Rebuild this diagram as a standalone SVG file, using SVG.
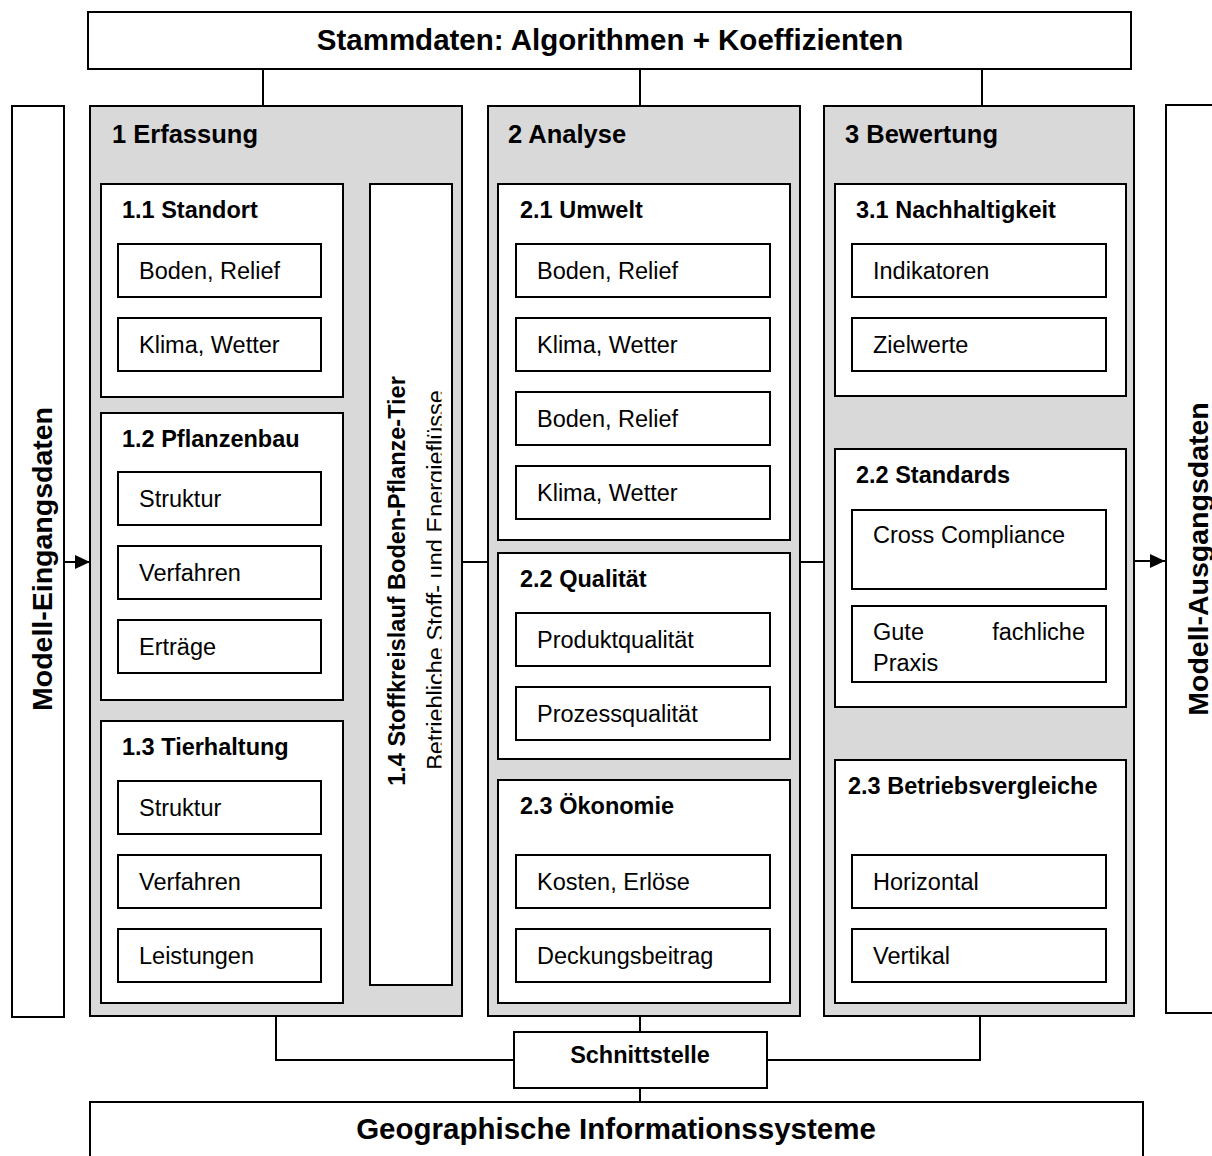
<svg xmlns="http://www.w3.org/2000/svg" width="1212" height="1156" viewBox="0 0 1212 1156">
<style>
.col{fill:#d9d9d9;stroke:#000;stroke-width:2}
.box{fill:#fff;stroke:#000;stroke-width:2}
.conn{fill:none;stroke:#000;stroke-width:2}
text{font-family:"Liberation Sans",Arial,sans-serif;fill:#000}
.big{font-size:29.5px;font-weight:bold}
.side{font-size:28.5px;font-weight:bold}
.ct{font-size:25.5px;font-weight:bold}
.st{font-size:23.5px;font-weight:bold}
.it{font-size:23.5px}
</style>
<defs>
<marker id="arr" markerWidth="15" markerHeight="14" refX="15" refY="7" orient="auto" markerUnits="userSpaceOnUse">
<path d="M0,0 L15,7 L0,14 Z" fill="#000"/>
</marker>
<clipPath id="clip14"><rect x="371" y="185" width="70.5" height="799"/></clipPath>
</defs>

<g id="connectors">
<line class="conn" x1="263" y1="69" x2="263" y2="106"/>
<line class="conn" x1="640" y1="69" x2="640" y2="106"/>
<line class="conn" x1="982" y1="69" x2="982" y2="106"/>
<line class="conn" x1="64" y1="562" x2="90" y2="562" marker-end="url(#arr)"/>
<line class="conn" x1="1134" y1="561" x2="1165" y2="561" marker-end="url(#arr)"/>
<line class="conn" x1="462" y1="562" x2="488" y2="562"/>
<line class="conn" x1="800" y1="562" x2="824" y2="562"/>
<line class="conn" x1="343" y1="291" x2="370" y2="291"/>
<line class="conn" x1="343" y1="556" x2="370" y2="556"/>
<line class="conn" x1="343" y1="862" x2="370" y2="862"/>
<polyline class="conn" points="276,1016 276,1060 514,1060"/>
<polyline class="conn" points="980,1016 980,1060 767,1060"/>
<line class="conn" x1="640" y1="1016" x2="640" y2="1032"/>
<line class="conn" x1="640" y1="1088" x2="640" y2="1102"/>
</g>

<g id="stammdaten">
<rect class="box" x="88" y="12" width="1043" height="57"/>
<text class="big" x="610" y="50" text-anchor="middle">Stammdaten: Algorithmen + Koeffizienten</text>
</g>

<g id="eingang">
<rect class="box" x="12" y="106" width="52" height="911"/>
<text class="side" transform="translate(52,559) rotate(-90)" text-anchor="middle">Modell-Eingangsdaten</text>
</g>

<g id="ausgang">
<rect class="box" x="1166" y="105" width="70" height="908"/>
<text class="side" transform="translate(1208,559) rotate(-90)" text-anchor="middle">Modell-Ausgangsdaten</text>
</g>

<g id="col1">
<rect class="col" x="90" y="106" width="372" height="910"/>
<text class="ct" x="112" y="143">1 Erfassung</text>
</g>
<g id="n1-1">
<rect class="box" x="101" y="184" width="242" height="213"/>
<text class="st" x="122" y="218">1.1 Standort</text>
<rect class="box" x="118" y="244" width="203" height="53"/><text class="it" x="139" y="279">Boden, Relief</text>
<rect class="box" x="118" y="318" width="203" height="53"/><text class="it" x="139" y="353">Klima, Wetter</text>
</g>
<g id="n1-2">
<rect class="box" x="101" y="413" width="242" height="287"/>
<text class="st" x="122" y="447">1.2 Pflanzenbau</text>
<rect class="box" x="118" y="472" width="203" height="53"/><text class="it" x="139" y="507">Struktur</text>
<rect class="box" x="118" y="546" width="203" height="53"/><text class="it" x="139" y="581">Verfahren</text>
<rect class="box" x="118" y="620" width="203" height="53"/><text class="it" x="139" y="655">Erträge</text>
</g>
<g id="n1-3">
<rect class="box" x="101" y="721" width="242" height="282"/>
<text class="st" x="122" y="755">1.3 Tierhaltung</text>
<rect class="box" x="118" y="781" width="203" height="53"/><text class="it" x="139" y="816">Struktur</text>
<rect class="box" x="118" y="855" width="203" height="53"/><text class="it" x="139" y="890">Verfahren</text>
<rect class="box" x="118" y="929" width="203" height="53"/><text class="it" x="139" y="964">Leistungen</text>
</g>
<g id="n1-4">
<rect class="box" x="370" y="184" width="82" height="801"/>
<text class="st" transform="translate(405,581) rotate(-90)" text-anchor="middle">1.4 Stoffkreislauf Boden-Pflanze-Tier</text>
<g clip-path="url(#clip14)">
<text class="it" transform="translate(444,580) rotate(-90)" text-anchor="middle">Betriebliche Stoff- und Energieflüsse</text>
</g>
</g>

<g id="col2">
<rect class="col" x="488" y="106" width="312" height="910"/>
<text class="ct" x="508" y="143">2 Analyse</text>
</g>
<g id="n2-1">
<rect class="box" x="498" y="184" width="292" height="356"/>
<text class="st" x="520" y="218">2.1 Umwelt</text>
<rect class="box" x="516" y="244" width="254" height="53"/><text class="it" x="537" y="279">Boden, Relief</text>
<rect class="box" x="516" y="318" width="254" height="53"/><text class="it" x="537" y="353">Klima, Wetter</text>
<rect class="box" x="516" y="392" width="254" height="53"/><text class="it" x="537" y="427">Boden, Relief</text>
<rect class="box" x="516" y="466" width="254" height="53"/><text class="it" x="537" y="501">Klima, Wetter</text>
</g>
<g id="n2-2">
<rect class="box" x="498" y="553" width="292" height="206"/>
<text class="st" x="520" y="587">2.2 Qualität</text>
<rect class="box" x="516" y="613" width="254" height="53"/><text class="it" x="537" y="648">Produktqualität</text>
<rect class="box" x="516" y="687" width="254" height="53"/><text class="it" x="537" y="722">Prozessqualität</text>
</g>
<g id="n2-3">
<rect class="box" x="498" y="780" width="292" height="223"/>
<text class="st" x="520" y="814">2.3 Ökonomie</text>
<rect class="box" x="516" y="855" width="254" height="53"/><text class="it" x="537" y="890">Kosten, Erlöse</text>
<rect class="box" x="516" y="929" width="254" height="53"/><text class="it" x="537" y="964">Deckungsbeitrag</text>
</g>

<g id="col3">
<rect class="col" x="824" y="106" width="310" height="910"/>
<text class="ct" x="845" y="143">3 Bewertung</text>
</g>
<g id="n3-1">
<rect class="box" x="835" y="184" width="291" height="212"/>
<text class="st" x="856" y="218">3.1 Nachhaltigkeit</text>
<rect class="box" x="852" y="244" width="254" height="53"/><text class="it" x="873" y="279">Indikatoren</text>
<rect class="box" x="852" y="318" width="254" height="53"/><text class="it" x="873" y="353">Zielwerte</text>
</g>
<g id="n3-2">
<rect class="box" x="835" y="449" width="291" height="258"/>
<text class="st" x="856" y="483">2.2 Standards</text>
<rect class="box" x="852" y="510" width="254" height="79"/><text class="it" x="873" y="543">Cross Compliance</text>
<rect class="box" x="852" y="606" width="254" height="76"/>
<text class="it" x="873" y="640">Gute</text>
<text class="it" x="1085" y="640" text-anchor="end">fachliche</text>
<text class="it" x="873" y="671">Praxis</text>
</g>
<g id="n3-3">
<rect class="box" x="835" y="760" width="291" height="243"/>
<text class="st" x="848" y="794">2.3 Betriebsvergleiche</text>
<rect class="box" x="852" y="855" width="254" height="53"/><text class="it" x="873" y="890">Horizontal</text>
<rect class="box" x="852" y="929" width="254" height="53"/><text class="it" x="873" y="964">Vertikal</text>
</g>

<g id="schnittstelle">
<rect class="box" x="514" y="1032" width="253" height="56"/>
<text class="st" x="640" y="1063" text-anchor="middle">Schnittstelle</text>
</g>

<g id="gis">
<rect class="box" x="90" y="1102" width="1053" height="80"/>
<text class="big" x="616" y="1139" text-anchor="middle">Geographische Informationssysteme</text>
</g>
</svg>
